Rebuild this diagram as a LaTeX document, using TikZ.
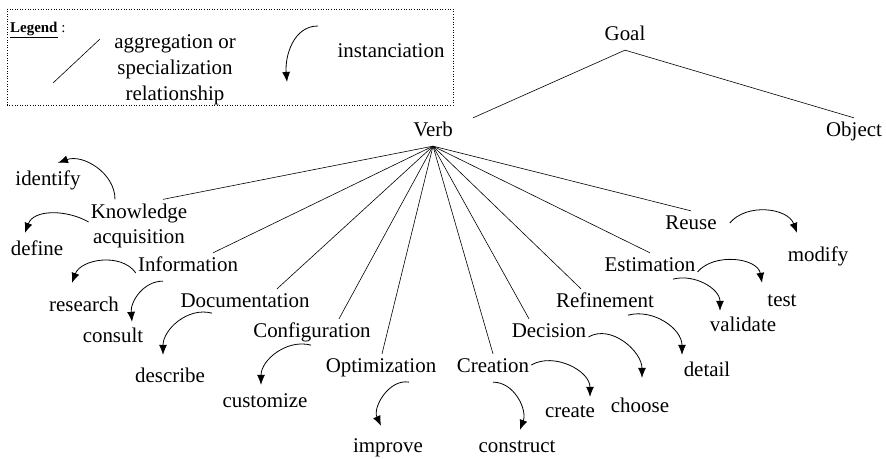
\documentclass[tikz,border=0pt]{standalone}
\usepackage{fontspec}
\setmainfont{Liberation Serif}
\usetikzlibrary{arrows.meta}

\tikzset{
  lbl/.style={font=\fontsize{21}{26}\selectfont,inner xsep=2bp,inner ysep=4bp,
    text height=14.7bp,text depth=5.2bp},
  txt/.style={font=\fontsize{21}{26}\selectfont,inner xsep=2bp,inner ysep=4bp,align=center},
  tree/.style={line width=0.6bp},
  inst/.style={->,line width=0.8bp},
}

\begin{document}
\begin{tikzpicture}[>={Latex[length=10bp,width=8bp]},line join=bevel]
\useasboundingbox (0bp,0bp) rectangle (886bp,459bp);
%% legend
\draw [dotted,line width=0.6bp] (7bp,354bp) rectangle (453bp,450bp);
\node (legend) at (10bp,426bp) [anchor=base west,inner sep=0pt,font=\fontsize{15}{18}\selectfont] {\underline{\textbf{Legend}} :};
\coordinate (la) at (53bp,376bp);
\coordinate (lb) at (100bp,420bp);
\draw [tree] (la) -- (lb);
\node (aggr) at (175bp,389.5bp) [txt] {aggregation or\\specialization\\relationship};
\coordinate (ia) at (318bp,433bp);
\coordinate (ib) at (287bp,377bp);
\draw [inst] (ia) to[out=180,in=95] (ib);
\node (inst) at (391bp,406bp) [lbl] {instanciation};
%% tree
\node (goal) at (625bp,423bp) [lbl] {Goal};
  \node (verb) at (433bp,327bp) [lbl] {Verb};
  \node (obj) at (854bp,327bp) [lbl] {Object};
  \node (know) at (139bp,233bp) [txt] {Knowledge\\acquisition};
  \node (info) at (188bp,192bp) [lbl] {Information};
  \node (doc) at (245bp,156bp) [lbl] {Documentation};
  \node (conf) at (312bp,126bp) [lbl] {Configuration};
  \node (opt) at (381bp,91bp) [lbl] {Optimization};
  \node (crea) at (493bp,91bp) [lbl] {Creation};
  \node (dec) at (549bp,126bp) [lbl] {Decision};
  \node (refi) at (605bp,156bp) [lbl] {Refinement};
  \node (esti) at (650bp,192bp) [lbl] {Estimation};
  \node (reuse) at (691bp,234bp) [lbl] {Reuse};
%% instances
  \node (identify) at (48bp,278bp) [lbl] {identify};
  \node (define) at (37bp,208bp) [lbl] {define};
  \node (research) at (84bp,152bp) [lbl] {research};
  \node (consult) at (113bp,121bp) [lbl] {consult};
  \node (describe) at (170bp,81bp) [lbl] {describe};
  \node (customize) at (265bp,56bp) [lbl] {customize};
  \node (improve) at (388bp,11bp) [lbl] {improve};
  \node (construct) at (517bp,11bp) [lbl] {construct};
  \node (create) at (570bp,46bp) [lbl] {create};
  \node (choose) at (640bp,51bp) [lbl] {choose};
  \node (detail) at (707bp,87bp) [lbl] {detail};
  \node (validate) at (743bp,132bp) [lbl] {validate};
  \node (test) at (782bp,157bp) [lbl] {test};
  \node (modify) at (818bp,202bp) [lbl] {modify};
%
\draw [tree] (goal.south) -- ([xshift=40bp]verb.north);
\draw [tree] (goal.south) -- (obj.north);
\draw [tree] (verb.south) -- ([xshift=24bp]know.north);
\draw [tree] (verb.south) -- ([xshift=25bp]info.north);
\draw [tree] (verb.south) -- ([xshift=32bp]doc.north);
\draw [tree] (verb.south) -- ([xshift=27bp]conf.north);
\draw [tree] (verb.south) -- ([xshift=1bp]opt.north);
\draw [tree] (verb.south) -- (crea.north);
\draw [tree] (verb.south) -- ([xshift=-20bp]dec.north);
\draw [tree] (verb.south) -- ([xshift=-24bp]refi.north);
\draw [tree] (verb.south) -- (esti.north);
\draw [tree] (verb.south) -- (reuse.north);
%
\draw [inst] ([xshift=-24bp]know.north) to[out=90,in=20] ([xshift=10bp,yshift=4bp]identify.north);
\draw [inst] ([yshift=4bp]know.west) to[out=150,in=70] ([xshift=-12bp,yshift=4bp]define.north);
\draw [inst] ([yshift=-6bp]info.west) to[out=125,in=70] ([xshift=-12bp,yshift=10bp]research.north);
\draw [inst] ([xshift=-25bp]info.south) to[out=180,in=95] ([xshift=19bp,yshift=2bp]consult.north);
\draw [inst] ([xshift=-33bp,yshift=4bp]doc.south) to[out=165,in=90] ([xshift=-7bp,yshift=9bp]describe.north);
\draw [inst] ([xshift=-1bp,yshift=2bp]conf.south) to[out=165,in=90] ([xshift=-4bp,yshift=4bp]customize.north);
\draw [inst] ([xshift=28bp]opt.south) to[out=170,in=115] ([xshift=-7bp,yshift=8bp]improve.north);
\draw [inst] (crea.south) to[out=0,in=70] ([xshift=3bp,yshift=4bp]construct.north);
\draw [inst] ([yshift=3bp]crea.east) to[out=30,in=90] ([xshift=20bp,yshift=2bp]create.north);
\draw [inst] ([yshift=-4bp]dec.east) to[out=30,in=90] ([xshift=2bp,yshift=16bp]choose.north);
\draw [inst] ([xshift=23bp,yshift=2bp]refi.south) to[out=15,in=90] ([xshift=-25bp,yshift=3bp]detail.north);
\draw [inst] ([xshift=23bp,yshift=2bp]esti.south) to[out=15,in=90] ([xshift=-23bp,yshift=2bp]validate.north);
\draw [inst] ([yshift=-5bp]esti.east) to[out=50,in=100] ([xshift=-20bp,yshift=5bp]test.north);
\draw [inst] ([xshift=11bp,yshift=2bp]reuse.east) to[out=50,in=110] ([xshift=-21bp,yshift=10bp]modify.north);
%
\end{tikzpicture}
\end{document}
